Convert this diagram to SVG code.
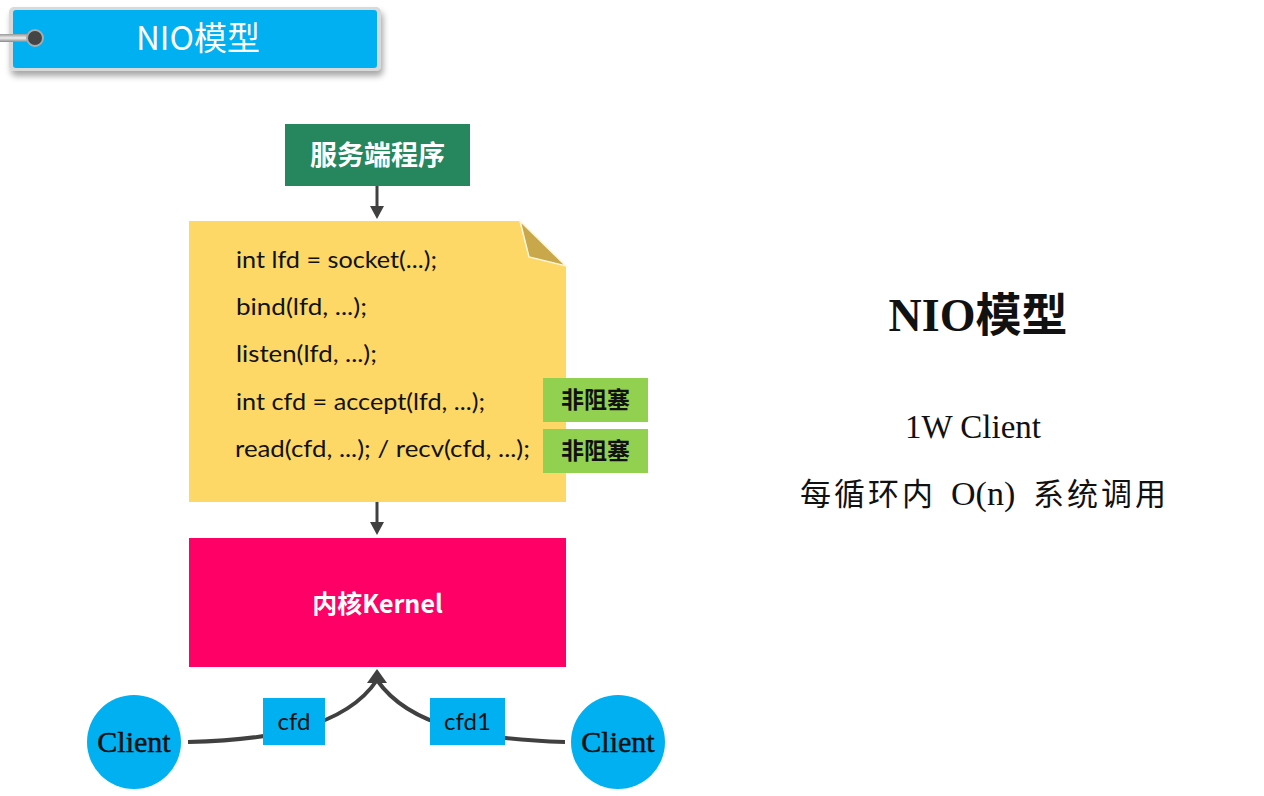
<svg xmlns="http://www.w3.org/2000/svg" width="1264" height="796" viewBox="0 0 1264 796">
<defs>
<style>
.code{font-family:Lato,"Open Sans","Noto Sans CJK SC",sans-serif;font-size:24px;fill:#111}
.tag{font-family:"Noto Sans CJK SC",sans-serif;font-size:23px;font-weight:bold;fill:#111}
.cl{font-family:"Liberation Serif","Noto Sans CJK SC",serif;font-size:30px;fill:#111;stroke:#111;stroke-width:0.5}
.lbl{font-family:Lato,"Open Sans",sans-serif;font-size:24px;fill:#111}
.conn{fill:none;stroke:#404040;stroke-width:4}
.rt{font-family:"Liberation Serif","Noto Sans CJK SC",serif;fill:#111}
</style>
<filter id="sh" x="-10%" y="-30%" width="120%" height="170%">
<feDropShadow dx="2" dy="5" stdDeviation="3" flood-color="#000" flood-opacity="0.35"/>
</filter>
<linearGradient id="rope" x1="0" y1="0" x2="0" y2="1">
<stop offset="0" stop-color="#999"/><stop offset="0.5" stop-color="#eee"/><stop offset="1" stop-color="#888"/>
</linearGradient>
</defs>

<g id="title">
<rect x="9" y="7" width="372" height="64" rx="5" fill="#d9d9d9" filter="url(#sh)"/>
<rect x="13" y="10" width="364" height="58" rx="3" fill="#00b0f0"/>
<rect x="0" y="34" width="34" height="8" fill="url(#rope)"/>
<circle cx="35" cy="38" r="8" fill="#444" stroke="#aaa" stroke-width="2"/>
<text x="198" y="50" text-anchor="middle" font-family="'Noto Sans CJK SC',sans-serif" font-size="33" fill="#fff">NIO模型</text>
</g>

<g id="server">
<rect x="285" y="124" width="185" height="62" fill="#26875f"/>
<text x="377.5" y="165" text-anchor="middle" font-family="'Noto Sans CJK SC',sans-serif" font-size="27" font-weight="bold" fill="#fff">服务端程序</text>
</g>

<g id="code">
<path d="M189,221 L520,221 L566,266 L566,502 L189,502 Z" fill="#fdd866"/>
<path d="M520,221 L529,257 L566,266 Z" fill="#c9a84c" stroke="#fff7dc" stroke-width="1.5"/>
<text class="code" x="236" y="268" textLength="201" lengthAdjust="spacingAndGlyphs">int lfd = socket(...);</text>
<text class="code" x="236" y="315" textLength="131" lengthAdjust="spacingAndGlyphs">bind(lfd, ...);</text>
<text class="code" x="236" y="362" textLength="141" lengthAdjust="spacingAndGlyphs">listen(lfd, ...);</text>
<text class="code" x="236" y="410" textLength="249" lengthAdjust="spacingAndGlyphs">int cfd = accept(lfd, ...);</text>
<text class="code" x="235" y="457" textLength="295" lengthAdjust="spacingAndGlyphs">read(cfd, ...); / recv(cfd, ...);</text>
</g>

<g id="tag1">
<rect x="543" y="378" width="105" height="44" fill="#92d050"/>
<text class="tag" x="595.5" y="408" text-anchor="middle">非阻塞</text>
</g>
<g id="tag2">
<rect x="543" y="429" width="105" height="44" fill="#92d050"/>
<text class="tag" x="595.5" y="459" text-anchor="middle">非阻塞</text>
</g>

<g id="kernel">
<rect x="189" y="538" width="377" height="129" fill="#ff0066"/>
<text x="377.5" y="613" text-anchor="middle" font-family="'Noto Sans CJK SC',sans-serif" font-size="25" font-weight="bold" fill="#fff">内核Kernel</text>
</g>

<g id="client1">
<circle cx="134" cy="742" r="47" fill="#00b0f0"/>
<text class="cl" x="134" y="752" text-anchor="middle">Client</text>
</g>
<g id="client2">
<circle cx="618" cy="742" r="47" fill="#00b0f0"/>
<text class="cl" x="618" y="752" text-anchor="middle">Client</text>
</g>

<g id="connectors">
<line x1="377" y1="186" x2="377" y2="208" stroke="#404040" stroke-width="3"/>
<path d="M370,206 L384,206 L377,219 Z" fill="#404040"/>
<line x1="377" y1="502" x2="377" y2="524" stroke="#404040" stroke-width="3"/>
<path d="M370,522 L384,522 L377,535 Z" fill="#404040"/>
<path class="conn" d="M188,742 C270,740 345,728 377,680"/>
<path class="conn" d="M565,742 C485,740 410,728 377,680"/>
<path d="M367,683 L377,669 L387,683 Z" fill="#404040"/>
</g>

<g id="label-cfd">
<rect x="263" y="698" width="62" height="47" fill="#00b0f0"/>
<text class="lbl" x="294" y="730" text-anchor="middle">cfd</text>
</g>
<g id="label-cfd1">
<rect x="430" y="698" width="75" height="47" fill="#00b0f0"/>
<text class="lbl" x="467.5" y="730" text-anchor="middle">cfd1</text>
</g>

<g id="notes">
<text class="rt" x="978" y="331" text-anchor="middle" font-size="46" font-weight="bold">NIO模型</text>
<text class="rt" x="973" y="438" text-anchor="middle" font-size="33">1W Client</text>
<text class="rt" y="505" font-size="31"><tspan x="800" letter-spacing="3">每循环内</tspan><tspan x="951" font-size="34">O(n)</tspan><tspan x="1033" letter-spacing="3">系统调用</tspan></text>
</g>
</svg>
